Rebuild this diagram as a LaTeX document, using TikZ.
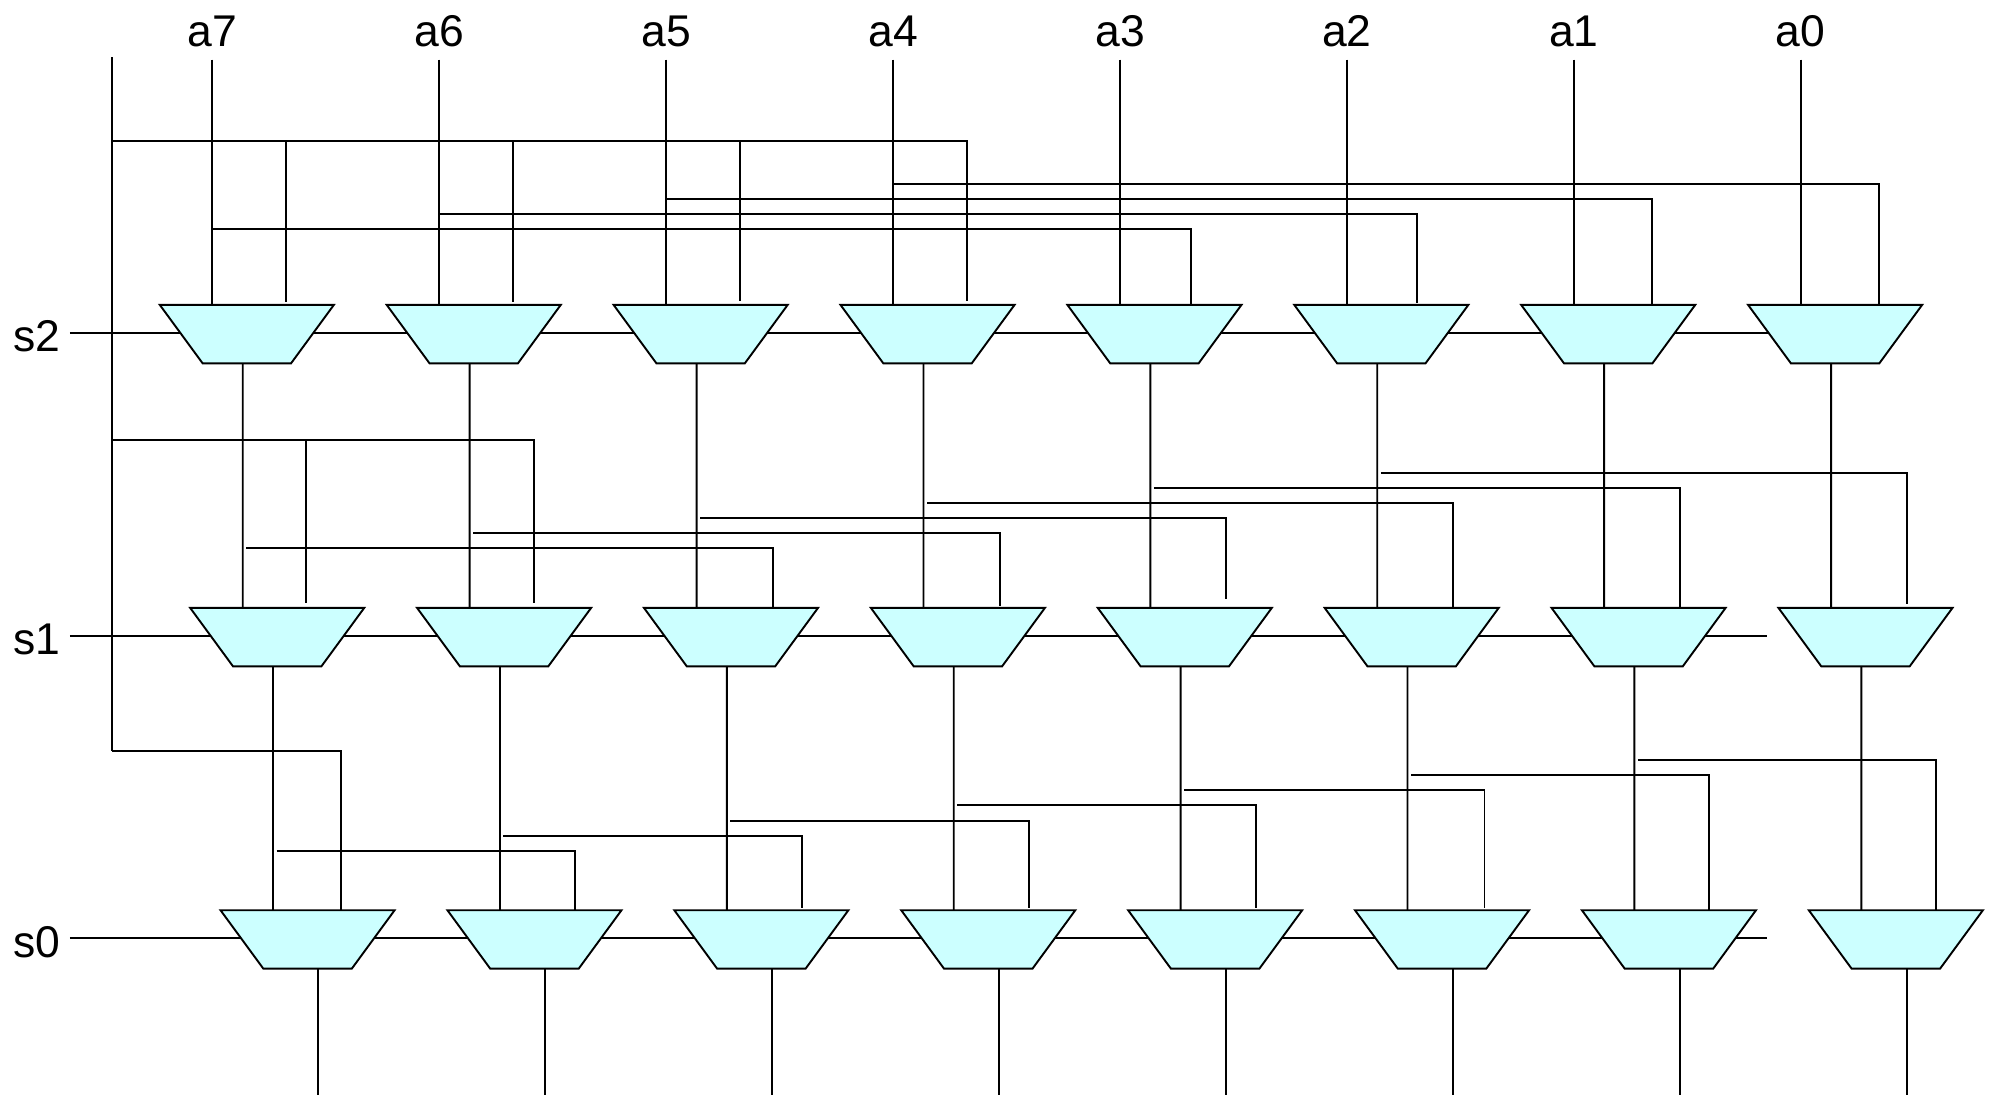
\documentclass[tikz,border=0pt]{standalone}
\usepackage{fontspec}
\setmainfont{Liberation Sans}
\usetikzlibrary{calc}
\definecolor{muxfill}{HTML}{CCFFFF}
\begin{document}
\begin{tikzpicture}[x=1pt,y=-1pt,
  wire/.style={line width=1.5pt,draw=black},
  mux/.style={draw=black,fill=muxfill,line width=1.5pt,line join=miter},
  lab/.style={font=\fontsize{35}{42}\selectfont,inner sep=0pt,text=black}]
\useasboundingbox (0,0) rectangle (1568,861.2);

% select labels and select lines
\node[lab,anchor=base east] (s2) at (48,276.8) {s2};
\node[lab,anchor=base east] (s1) at (48,515.3) {s1};
\node[lab,anchor=base east] (s0) at (48,753.4) {s0};
\coordinate (s2w) at (55,262);    \coordinate (s2e) at (1420,262);
\coordinate (s1w) at (55,500.5);  \coordinate (s1e) at (1390.8,500.5);
\coordinate (s0w) at (55,738.6);  \coordinate (s0e) at (1390.8,738.6);
\draw[wire] (s2w) -- (s2e);
\draw[wire] (s1w) -- (s1e);
\draw[wire] (s0w) -- (s0e);

% stage s2 multiplexers
\foreach \c/\r/\g in {0/225.3/2.4,1/403.8/2.4,2/582.6/3,3/761.2/3,4/937.2/0,5/1115.3/1.5,6/1300.1/0,7/1478.7/0}{
  \pgfmathsetmacro\L{125.8+178.6*\c}
  \pgfmathtruncatemacro\n{7-\c}
  \path[mux] (\L,240) -- ++(137,0) -- ++(-33.7,46) -- ++(-69.6,0) -- cycle;
  \coordinate (A\c-l) at (\L+41.4,240);
  \coordinate (A\c-r) at (\r,240-\g);
  \coordinate (A\c-o) at (\L+65.3,286);
  \node[lab,anchor=base] (a\n) at (\L+41.4,36.7) {a\n};
  \coordinate (in\c) at (\L+41.4,47);
}
% stage s1 multiplexers
\foreach \c/\r/\g in {0/241.1/4,1/420/4,2/608.3/0,3/786.8/1.6,4/965.3/6.8,5/1143.8/0,6/1322.4/0,7/1501.3/3.4}{
  \pgfmathsetmacro\L{149.7+178.6*\c}
  \path[mux] (\L,478.5) -- ++(137,0) -- ++(-33.7,46) -- ++(-69.6,0) -- cycle;
  \coordinate (B\c-l) at (\L+41.4,478.5);
  \coordinate (B\c-r) at (\r,478.5-\g);
  \coordinate (B\c-o) at (\L+65.2,524.5);
}
% stage s0 multiplexers
\foreach \c/\r/\g in {0/268.2/0,1/452.4/0,2/631.1/1.8,3/809.7/1.8,4/988.5/1.8,5/1168.5/1.8,6/1345.3/0,7/1523.9/0}{
  \pgfmathsetmacro\L{173.6+178.6*\c}
  \path[mux] (\L,716.5) -- ++(137,0) -- ++(-33.7,46) -- ++(-69.6,0) -- cycle;
  \coordinate (C\c-l) at (\L+41.3,716.5);
  \coordinate (C\c-r) at (\r,716.5-\g);
  \coordinate (C\c-o) at (\L+77,762.5);
  \coordinate (out\c) at (\L+77,863);
}

% zero (fill) line on the left
\coordinate (ztop) at (88,45);
\coordinate (z2) at (88,110.7);
\coordinate (z1) at (88,346);
\coordinate (z0) at (88,591.3);
\draw[wire] (ztop) -- (z0);

% stage s2 wiring
\foreach \c in {0,...,7}{ \draw[wire] (in\c) -- (A\c-l); }
\draw[wire] (z2) -| (A3-r);
\foreach \c in {0,1,2}{ \draw[wire] (z2 -| A\c-r) -- (A\c-r); }
\foreach \s/\t/\y in {0/4/180.5,1/5/168.6,2/6/156.7,3/7/145.1}{
  \coordinate (k\s) at (in\s |- 0,\y);
  \draw[wire] (k\s) -| (A\t-r);
}

% stage s1 wiring
\foreach \c in {0,...,7}{ \draw[wire] (A\c-o) -- (B\c-l); }
\draw[wire] (z1) -| (B1-r);
\draw[wire] (z1 -| B0-r) -- (B0-r);
\foreach \s/\t/\y in {0/2/431.7,1/3/419.8,2/4/407.8,3/5/396,4/6/384.1,5/7/372}{
  \coordinate (m\s) at ($(A\s-o |- 0,\y)+(2.8,0)$);
  \draw[wire] (m\s) -| (B\t-r);
}

% stage s0 wiring
\foreach \c in {0,...,7}{ \draw[wire] (B\c-o) -- (C\c-l); }
\draw[wire] (z0) -| (C0-r);
\foreach \s/\t/\y in {0/1/669.8,1/2/657.9,2/3/646,3/4/633.9,4/5/621.9,5/6/610.3,6/7/598.2}{
  \coordinate (n\s) at ($(B\s-o |- 0,\y)+(2.8,0)$);
  \draw[wire] (n\s) -| (C\t-r);
}

% outputs
\foreach \c in {0,...,7}{ \draw[wire] (C\c-o) -- (out\c); }
\end{tikzpicture}
\end{document}
